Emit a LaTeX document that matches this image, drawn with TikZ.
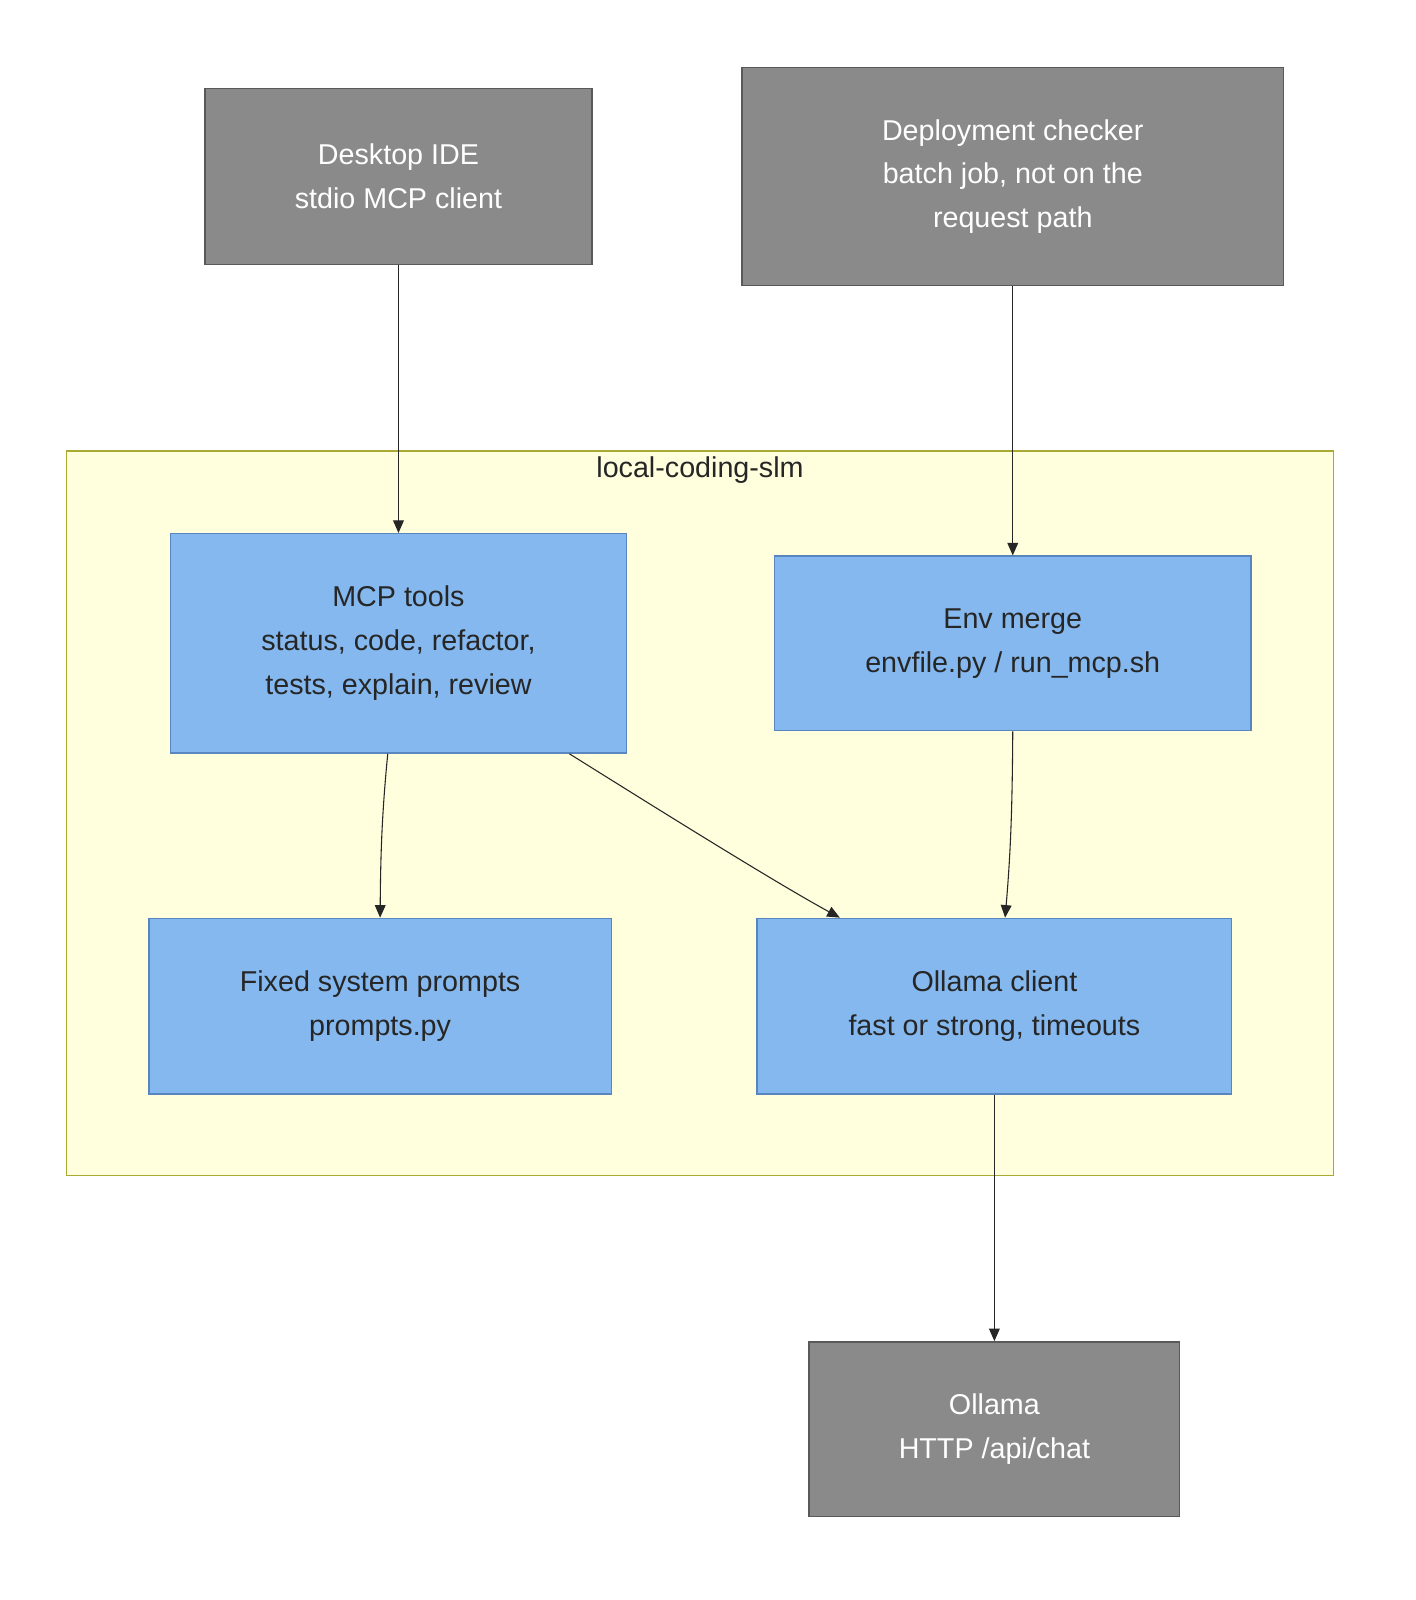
\documentclass[tikz,border=0pt]{standalone}
\usepackage{fontspec}
\setmainfont{Liberation Sans}
\usetikzlibrary{arrows.meta}
\begin{document}
\begin{tikzpicture}[x=0.02cm,y=-0.02cm,
  ext/.style={draw=black!65,fill=gbox,text=white,font=\fontsize{16}{24.5}\selectfont,align=center,line width=0.8pt},
  inner/.style={draw=boxedge,fill=boxblue,align=center,font=\fontsize{16}{24.5}\selectfont,text=black!85,line width=0.8pt},
  conn/.style={draw=black!85,line width=0.6pt,-{Triangle[length=7pt,width=6pt]}}]
\definecolor{boxblue}{HTML}{84B8EE}
\definecolor{boxedge}{HTML}{5A86C0}
\definecolor{clfill}{HTML}{FFFEDD}
\definecolor{cledge}{HTML}{AAAA33}
\definecolor{gbox}{HTML}{8A8A8A}
\useasboundingbox (0,0) rectangle (1387,1568);
\draw[fill=clfill,draw=cledge,line width=0.8pt] (65,442) rectangle (1307,1152);
\node[font=\fontsize{16}{24.5}\selectfont,text=black!85] (cl) at (686,461) {local-coding-slm};
\node[ext,minimum width=379*0.02cm,minimum height=172*0.02cm] (ide) at (390.5,173) {Desktop IDE\\stdio MCP client};
\node[ext,minimum width=531*0.02cm,minimum height=214*0.02cm] (dep) at (992.5,173) {Deployment checker\\batch job, not on the\\request path};
\node[inner,minimum width=447*0.02cm,minimum height=215*0.02cm] (mcp) at (390.5,630.5) {MCP tools\\status, code, refactor,\\tests, explain, review};
\node[inner,minimum width=467*0.02cm,minimum height=171*0.02cm] (env) at (992.5,630.5) {Env merge\\envfile.py / run\_mcp.sh};
\node[inner,minimum width=453*0.02cm,minimum height=172*0.02cm] (fix) at (372.5,986) {Fixed system prompts\\prompts.py};
\node[inner,minimum width=465*0.02cm,minimum height=172*0.02cm] (oc) at (974.5,986) {Ollama client\\fast or strong, timeouts};
\node[ext,minimum width=363*0.02cm,minimum height=171*0.02cm] (oll) at (974.5,1400.5) {Ollama\\HTTP /api/chat};
\draw[conn] (ide.south) -- (mcp.north);
\draw[conn] (dep.south) -- (env.north);
\draw[conn] (mcp.south -| 380,0) .. controls (374,800) and (373,840) .. (fix.north);
\draw[conn] (mcp.south -| 558,0) .. controls (640,790) and (760,865) .. (oc.north -| 823,0);
\draw[conn] (env.south) .. controls (992,800) and (990,840) .. (oc.north -| 985,0);
\draw[conn] (oc.south) -- (oll.north);
\end{tikzpicture}
\end{document}
